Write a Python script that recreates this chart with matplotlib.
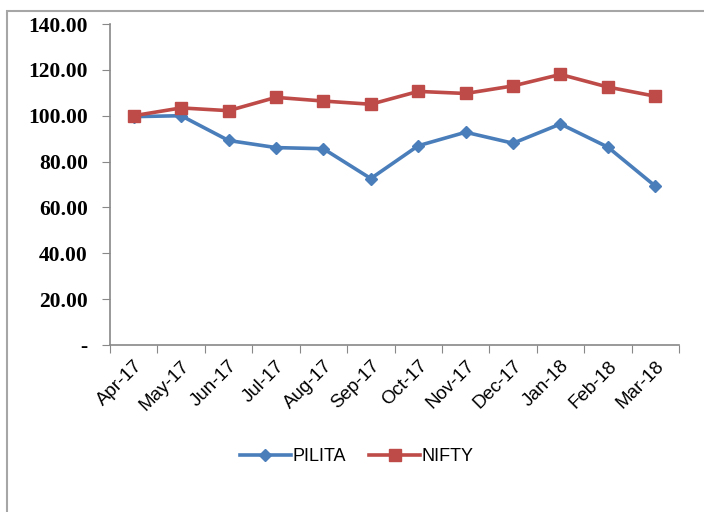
import numpy as np
import matplotlib.pyplot as plt
from matplotlib.patches import Rectangle

months = ['Apr-17', 'May-17', 'Jun-17', 'Jul-17', 'Aug-17', 'Sep-17',
          'Oct-17', 'Nov-17', 'Dec-17', 'Jan-18', 'Feb-18', 'Mar-18']
pilita = [99.6, 100.0, 89.2, 86.1, 85.6, 72.6, 86.9, 92.8, 88.0, 96.4, 86.3, 69.3]
nifty = [100.0, 103.4, 102.2, 108.0, 106.4, 105.0, 110.6, 109.7, 113.0, 118.0, 112.5, 108.5]
yticks = [0, 20, 40, 60, 80, 100, 120, 140]
ytick_labels = ['-', '20.00', '40.00', '60.00', '80.00', '100.00', '120.00', '140.00']

fig = plt.figure(figsize=(7.04, 5.12), dpi=100)
fig.patches.append(Rectangle((7 / 704, -0.1), 1.2, 1 - 11 / 512 + 0.1,
                             transform=fig.transFigure, fill=False,
                             edgecolor='#a6a6a6', linewidth=1.5))

ax = fig.add_axes([110 / 704, 1 - 345 / 512, (679 - 110) / 704, (345 - 24) / 512])
x = np.arange(len(months))
ax.plot(x, pilita, color='#4a7ebb', linewidth=2.6, marker='D', markersize=6.5,
        label='PILITA')
ax.plot(x, nifty, color='#be4b48', linewidth=2.6, marker='s', markersize=8.5,
        label='NIFTY')

ax.set_xlim(-0.5, len(months) - 0.5)
ax.set_ylim(0, 140)
ax.set_yticks(yticks)
ax.set_yticklabels(ytick_labels, fontfamily='Liberation Serif', fontweight='bold',
                   fontsize=15.5)
ax.set_xticks(np.arange(-0.5, len(months), 1.0))
ax.set_xticklabels([])
ax.set_xticks(x, minor=True)
ax.set_xticklabels(months, minor=True, rotation=45, ha='right', rotation_mode='anchor',
                   fontfamily='Liberation Sans', fontsize=13.5)
ax.tick_params(axis='x', which='minor', length=0, pad=9)
ax.tick_params(axis='x', which='major', length=6, color='#888888')
ax.tick_params(axis='y', length=6, color='#888888', pad=10)

for side in ['top', 'right']:
    ax.spines[side].set_visible(False)
for side in ['left', 'bottom']:
    ax.spines[side].set_color('#888888')
    ax.spines[side].set_linewidth(1.2)

ax.legend(loc='upper center', bbox_to_anchor=(0.434, -0.27), ncol=2, frameon=False,
          prop={'family': 'Liberation Sans', 'size': 13},
          handlelength=2.8, handletextpad=0.1, columnspacing=1.3)

fig.savefig('out.png', dpi=100)
